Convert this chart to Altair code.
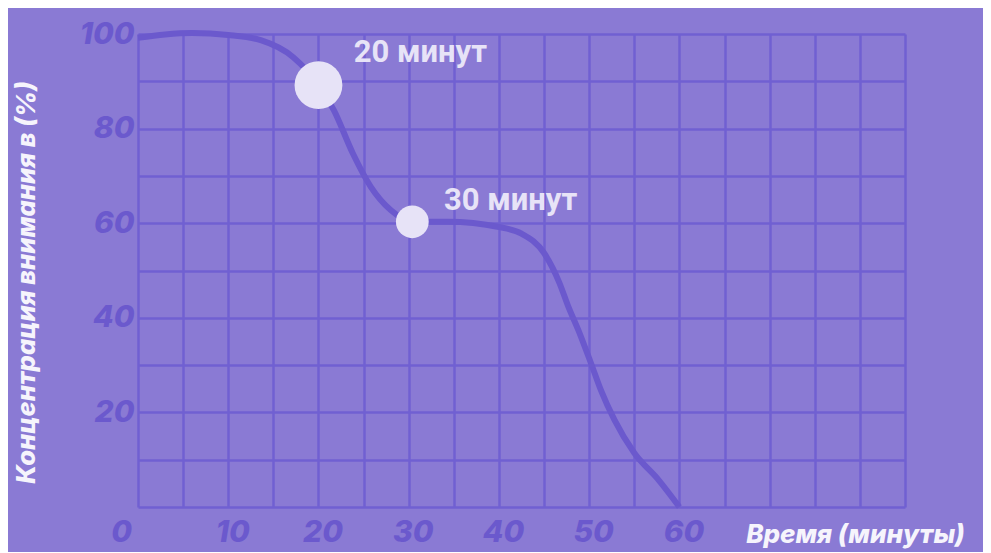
import altair as alt
import pandas as pd

minutes = [0, 3, 6, 10, 13.6, 17.2, 20, 21.7, 23.8, 25.8, 28, 30.4, 34.3, 40, 42.5, 45,
           46.7, 47.7, 48.8, 50.2, 51.3, 52.8, 55, 57.7, 60]
attention = [99.2, 99.9, 100.2, 99.8, 98.7, 95.1, 89.2, 83.9, 74.8, 67.7, 62.8, 60.3, 60.3,
             59.2, 57.8, 53.7, 47.4, 42.3, 37.4, 30.4, 24.7, 18.4, 11.4, 5.7, 0]

marker_minutes = [20, 30.4]
marker_values = [89.2, 60.3]

label_texts = ["20 минут", "30 минут"]
label_minutes = [23.9, 33.9]
label_values = [95.9, 64.7]

x_ticks = list(range(0, 90, 5))
y_ticks = list(range(0, 101, 10))

BG = "#8a7ad4"
GRID = "#7060d2"
LINE = "#6b59cd"
LIGHT = "#e7e3f7"
WHITE = "#f6f4fc"
FONT = "Inter"

curve = pd.DataFrame({"t": minutes, "v": attention})
markers = pd.DataFrame({"t": marker_minutes, "v": marker_values})
labels = pd.DataFrame({"t": label_minutes, "v": label_values, "txt": label_texts})

xscale = alt.Scale(domain=[0, 85], nice=False, zero=True)
yscale = alt.Scale(domain=[0, 100], nice=False)

xaxis = alt.Axis(
    values=x_ticks,
    labelExpr="datum.value % 10 == 0 && datum.value <= 60 ? datum.label : ''",
    grid=True, gridColor=GRID, gridWidth=2.5, gridOpacity=1,
    domain=False, ticks=False,
    labelFont=FONT, labelFontSize=30, labelFontStyle="italic", labelFontWeight=800,
    labelColor=LINE, labelPadding=10, labelFlush=False, labelOverlap=False,
    labelAlign="center",
    labelOffset=alt.condition("datum.value == 0", alt.value(-17), alt.value(4)),
    title="Время (минуты)", titleX=717, titleY=27, titleAlign="center",
    titleBaseline="middle", titleFont=FONT, titleFontSize=26, titleFontStyle="italic",
    titleFontWeight=800, titleColor=WHITE,
)
yaxis = alt.Axis(
    values=y_ticks,
    labelExpr="datum.value % 20 == 0 && datum.value > 0 ? datum.label : ''",
    grid=True, gridColor=GRID, gridWidth=2.5, gridOpacity=1,
    domain=False, ticks=False,
    labelFont=FONT, labelFontSize=30, labelFontStyle="italic", labelFontWeight=800,
    labelColor=LINE, labelPadding=4, labelFlush=False, labelOverlap=False,
    title="Концентрация внимания в (%)", titleX=-112, titleY=248, titleAngle=-90,
    titleAlign="center", titleBaseline="middle", titleFont=FONT, titleFontSize=25.5,
    titleFontStyle="italic", titleFontWeight=800, titleColor=WHITE,
)

line = alt.Chart(curve).mark_line(color=LINE, strokeWidth=6, interpolate="monotone").encode(
    x=alt.X("t:Q", scale=xscale, axis=xaxis),
    y=alt.Y("v:Q", scale=yscale, axis=yaxis),
)

dots = alt.Chart(markers).mark_circle(color=LIGHT, opacity=1).encode(
    x=alt.X("t:Q", scale=xscale),
    y=alt.Y("v:Q", scale=yscale),
    size=alt.condition("datum.t == 20", alt.value(2290), alt.value(1075)),
)

texts = alt.Chart(labels).mark_text(
    align="left", baseline="middle", font="Roboto", fontSize=31, fontWeight="bold", color=LIGHT
).encode(
    x=alt.X("t:Q", scale=xscale),
    y=alt.Y("v:Q", scale=yscale),
    text="txt:N",
)

chart = alt.layer(line, dots, texts).properties(
    width=767, height=473,
    autosize=alt.AutoSizeParams(type="none"),
    padding={"left": 130, "top": 26, "right": 78, "bottom": 45},
    background=BG,
).configure_view(stroke=None)

chart.save("out.html", embed_options={"renderer": "svg", "actions": False})
